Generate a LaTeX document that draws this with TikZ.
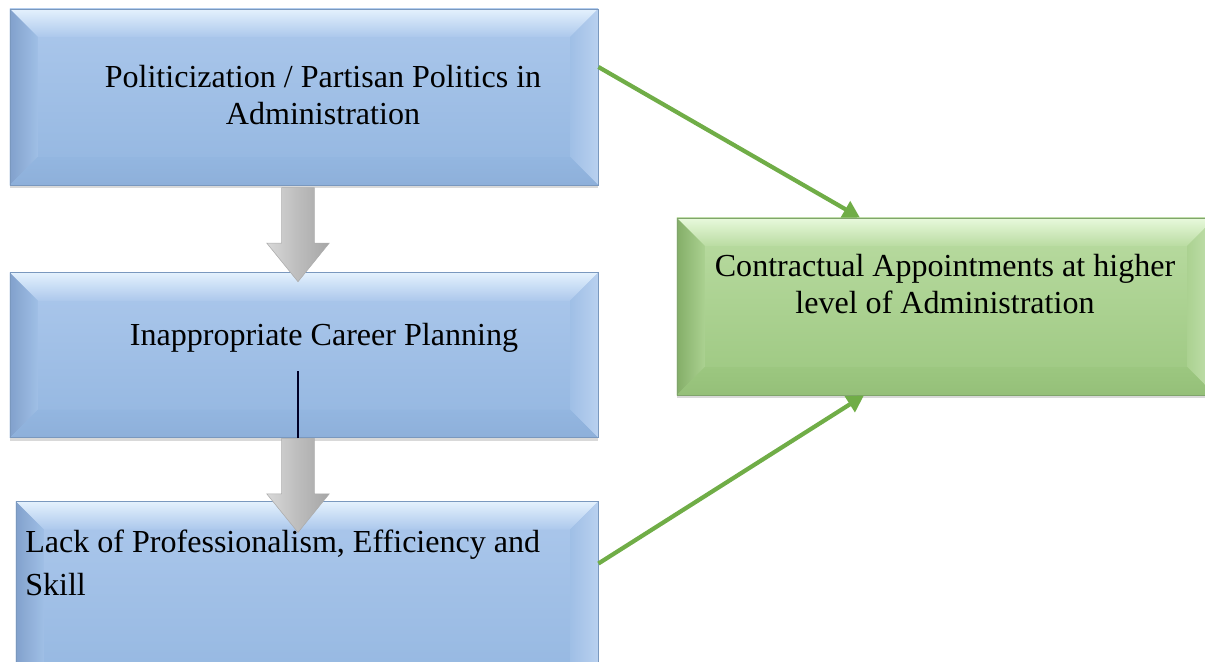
\documentclass[tikz,border=0pt]{standalone}
\usepackage{fontspec}
\setmainfont{Liberation Serif}
\usetikzlibrary{positioning,arrows.meta,shapes.arrows,shadows}
\definecolor{bluetop}{RGB}{172,200,236}
\definecolor{bluebot}{RGB}{147,182,224}
\definecolor{bluelite}{RGB}{228,241,253}
\definecolor{bluedark}{RGB}{130,161,204}
\definecolor{blueedge}{RGB}{122,152,190}
\definecolor{greentop}{RGB}{186,220,162}
\definecolor{greenbot}{RGB}{156,199,128}
\definecolor{greenlite}{RGB}{232,249,220}
\definecolor{greendark}{RGB}{132,174,104}
\definecolor{greenedge}{RGB}{128,164,108}
\definecolor{linkgreen}{RGB}{112,173,71}
\tikzset{
  bevelbox/.style={draw=#1edge,line width=0.5pt,inner sep=0pt,top color=#1top,bottom color=#1bot,
    drop shadow={shadow xshift=0pt,shadow yshift=-0.07cm,opacity=0.3},
    path picture={
      \coordinate (bnw) at (path picture bounding box.north west);
      \coordinate (bne) at (path picture bounding box.north east);
      \coordinate (bse) at (path picture bounding box.south east);
      \coordinate (bsw) at (path picture bounding box.south west);
      \shade[top color=#1lite,bottom color=#1top] (bnw) -- (bne) -- ++(-0.7cm,-0.7cm) -- ([shift={(0.7cm,-0.7cm)}]bnw) -- cycle;
      \shade[left color=#1dark,right color=#1top!50!#1bot] (bnw) -- ++(0.7cm,-0.7cm) -- ([shift={(0.7cm,0.7cm)}]bsw) -- (bsw) -- cycle;
      \shade[left color=#1top!50!#1bot,right color=#1top!85!white] (bne) -- ++(-0.7cm,-0.7cm) -- ([shift={(-0.7cm,0.7cm)}]bse) -- (bse) -- cycle;
      \shade[top color=#1bot,bottom color=#1dark!30!#1bot] (bsw) -- ++(0.7cm,0.7cm) -- ([shift={(-0.7cm,0.7cm)}]bse) -- (bse) -- cycle;
    }},
}
\begin{document}
\begin{tikzpicture}[x=0.025cm,y=0.025cm,
  txt/.style={font=\fontsize{22.8}{26.8}\selectfont,align=center,inner sep=0pt},
  link/.style={linkgreen,line width=3pt,-{Triangle[length=0.42cm,width=0.45cm]}},
  downarrow/.style={single arrow,rotate=-90,minimum height=2.35cm,minimum width=1.55cm,single arrow head extend=0.375cm,
    single arrow tip angle=78,inner xsep=0pt,inner ysep=0.4cm,left color=gray!30,right color=gray!70,middle color=gray!52,
    draw=gray!65,line width=0.4pt,anchor=tail}]
\clip (0,0) rectangle (1205,-662);
\node[bevelbox=blue,minimum width=14.7cm,minimum height=4.4cm] (pol) at (304,-97) {};
\node[bevelbox=blue,minimum width=14.7cm,minimum height=4.125cm,below=2.175cm of pol] (plan) {};
\node[bevelbox=blue,minimum width=14.55cm,minimum height=5cm,below=1.575cm of plan,xshift=0.075cm] (prof) {};
\node[bevelbox=green,minimum width=13.45cm,minimum height=4.425cm] (contr) at (946,-306.5) {};
\node[txt] (polt) at ([shift={(19,2)}]pol.center) {Politicization / Partisan Politics in\\Administration};
\node[txt] (plant) at ([shift={(20,17.5)}]plan.center) {Inappropriate Career Planning};
\node[txt,align=left,anchor=north west,font=\fontsize{22.8}{30.6}\selectfont] (proft) at (25,-530) {Lack of Professionalism, Efficiency and\\Skill};
\node[txt] (contrt) at (945,-284) {Contractual Appointments at higher\\level of Administration};
\node[downarrow] (a1) at ([xshift=-0.15cm,yshift=-0.05cm]pol.south) {};
\node[downarrow] (a2) at ([xshift=-0.15cm]plan.south) {};
\draw[line width=1pt,black!85!blue] (a2.tail) -- ++(0,67);
\draw[link] ([yshift=0.75cm]pol.east) -- ([xshift=-2.15cm]contr.north);
\draw[link] ([yshift=0.95cm]prof.east) -- ([xshift=-2.05cm]contr.south);
\end{tikzpicture}
\end{document}
